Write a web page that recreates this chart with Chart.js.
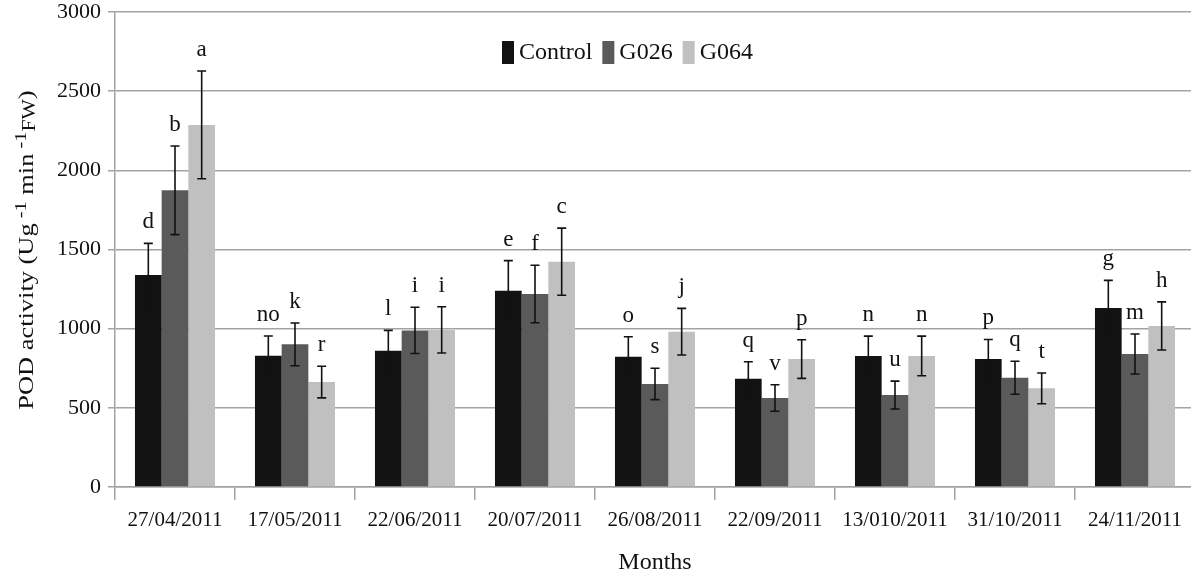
<!DOCTYPE html>
<html>
<head>
<meta charset="utf-8">
<script src="https://cdn.jsdelivr.net/npm/chart.js@4/dist/chart.umd.min.js"></script>
<style>
  html, body { margin: 0; padding: 0; background: #fff; overflow: hidden; }
  #wrap { position: relative; width: 1196px; height: 573px; }
</style>
</head>
<body>
<div id="wrap"><canvas id="chart"></canvas></div>
<script>
const months = ['27/04/2011', '17/05/2011', '22/06/2011', '20/07/2011', '26/08/2011',
  '22/09/2011', '13/010/2011', '31/10/2011', '24/11/2011'];

const control = [1339, 829, 861, 1240, 823, 684, 828, 809, 1131];
const g026 = [1874, 901, 989, 1219, 651, 562, 581, 690, 840];
const g064 = [2287, 663, 992, 1423, 981, 808, 828, 623, 1017];

const controlErr = [200, 125, 128, 190, 126, 107, 125, 123, 174];
const g026Err = [280, 135, 146, 182, 99, 84, 88, 104, 126];
const g064Err = [340, 100, 146, 212, 147, 122, 125, 97, 152];

const controlLetters = ['d', 'no', 'l', 'e', 'o', 'q', 'n', 'p', 'g'];
const g026Letters = ['b', 'k', 'i', 'f', 's', 'v', 'u', 'q', 'm'];
const g064Letters = ['a', 'r', 'i', 'c', 'j', 'p', 'n', 't', 'h'];

const yTicks = [0, 500, 1000, 1500, 2000, 2500, 3000];

const serif = "'Liberation Serif', serif";
const gridColor = '#a3a3a3';

// error bars + significance letters
const errorBars = {
  id: 'errorBars',
  afterDatasetsDraw(chart) {
    const { ctx, scales: { y } } = chart;
    ctx.save();
    chart.data.datasets.forEach((ds, i) => {
      const meta = chart.getDatasetMeta(i);
      meta.data.forEach((bar, j) => {
        const v = ds.data[j], e = ds.errors[j];
        const top = y.getPixelForValue(v + e);
        const bot = y.getPixelForValue(v - e);
        ctx.strokeStyle = '#111';
        ctx.lineWidth = 1.6;
        ctx.beginPath();
        ctx.moveTo(bar.x, top); ctx.lineTo(bar.x, bot);
        ctx.moveTo(bar.x - 4.5, top); ctx.lineTo(bar.x + 4.5, top);
        ctx.moveTo(bar.x - 4.5, bot); ctx.lineTo(bar.x + 4.5, bot);
        ctx.stroke();
        ctx.fillStyle = '#111';
        ctx.font = '23px ' + serif;
        ctx.textAlign = 'center';
        ctx.textBaseline = 'middle';
        ctx.fillText(ds.letters[j], bar.x, top - 21);
      });
    });
    ctx.restore();
  }
};

// legend inside the plot, titles
const extras = {
  id: 'extras',
  afterDraw(chart) {
    const { ctx, chartArea } = chart;
    ctx.save();
    // legend
    ctx.textBaseline = 'middle';
    ctx.textAlign = 'left';
    let x = 502;
    const yc = 53;
    chart.data.datasets.forEach(ds => {
      ctx.fillStyle = ds.backgroundColor;
      ctx.fillRect(x, yc - 12, 12, 23);
      x += 17;
      ctx.fillStyle = '#111';
      ctx.font = '24px ' + serif;
      ctx.fillText(ds.label, x, yc);
      x += ctx.measureText(ds.label).width + 10;
    });

    // x title
    ctx.textAlign = 'center';
    ctx.font = '24px ' + serif;
    ctx.fillText('Months', (chartArea.left + chartArea.right) / 2, 563);

    // y title with superscripts
    const parts = [
      { t: 'POD activity (Ug', size: 22, dy: 0 },
      { t: ' -1', size: 17, dy: -7 },
      { t: ' min', size: 22, dy: 0 },
      { t: ' -1', size: 17, dy: -7 },
      { t: 'FW', size: 18, dy: 2 },
      { t: ')', size: 22, dy: 0 }
    ];
    ctx.translate(33, 250);
    ctx.rotate(-Math.PI / 2);
    ctx.scale(1.2, 1);
    ctx.textAlign = 'left';
    ctx.textBaseline = 'alphabetic';
    let total = 0;
    parts.forEach(p => { ctx.font = p.size + 'px ' + serif; p.w = ctx.measureText(p.t).width; total += p.w; });
    let px = -total / 2;
    parts.forEach(p => {
      ctx.font = p.size + 'px ' + serif;
      ctx.fillText(p.t, px, p.dy);
      px += p.w;
    });
    ctx.restore();
  }
};

function draw() {
  new Chart(document.getElementById('chart'), {
    type: 'bar',
    data: {
      labels: months,
      datasets: [
        { label: 'Control', data: control, errors: controlErr, letters: controlLetters, backgroundColor: '#121212' },
        { label: 'G026', data: g026, errors: g026Err, letters: g026Letters, backgroundColor: '#5a5a5a' },
        { label: 'G064', data: g064, errors: g064Err, letters: g064Letters, backgroundColor: '#c0c0c0' }
      ]
    },
    options: {
      responsive: true,
      maintainAspectRatio: false,
      animation: false,
      layout: { padding: { top: 12, right: 1, left: 0, bottom: 0 } },
      datasets: {
        bar: { categoryPercentage: 0.667, barPercentage: 1, borderWidth: 0 }
      },
      plugins: {
        legend: { display: false },
        tooltip: { enabled: false }
      },
      scales: {
        x: {
          afterFit(scale) { scale.height = 86; },
          grid: { display: true, drawOnChartArea: false, offset: true, tickLength: 13, color: gridColor, lineWidth: 1.5 },
          border: { color: gridColor, width: 1.5 },
          ticks: { color: '#111', font: { family: serif, size: 21 }, padding: 8, maxRotation: 0, autoSkip: false }
        },
        y: {
          min: 0,
          max: 3000,
          afterFit(scale) { scale.width = 115; scale.paddingTop = 0; scale.paddingBottom = 0; },
          afterBuildTicks(scale) { scale.ticks = yTicks.map(v => ({ value: v })); },
          grid: { color: gridColor, lineWidth: 1.5, tickLength: 7 },
          border: { color: gridColor, width: 1.5 },
          ticks: { color: '#111', font: { family: serif, size: 22 }, padding: 7, callback: v => String(v) }
        }
      }
    },
    plugins: [errorBars, extras]
  });
}

document.fonts.load("22px 'Liberation Serif'").then(draw, draw);
</script>
</body>
</html>
